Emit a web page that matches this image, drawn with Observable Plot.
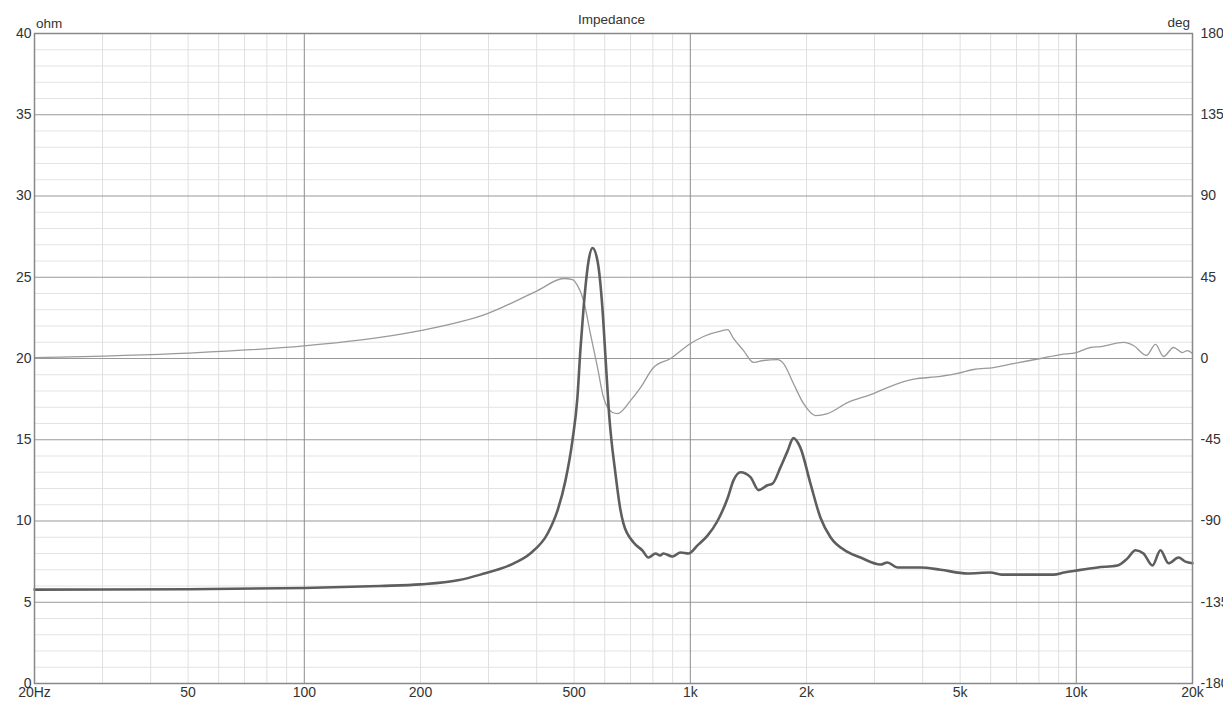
<!DOCTYPE html>
<html>
<head>
<meta charset="utf-8">
<script src="https://cdn.jsdelivr.net/npm/d3@7"></script>
<script src="https://cdn.jsdelivr.net/npm/@observablehq/plot@0.6"></script>
<style>
  html, body { margin: 0; padding: 0; background: #fff; }
  #chart { position: relative; width: 1223px; height: 710px; overflow: hidden; font-family: "Liberation Sans", Arial, sans-serif; }
  #chart svg { position: absolute; left: 0; top: 0; }
  .lbl { position: absolute; font-size: 13.5px; line-height: 1; color: #333; white-space: nowrap; }
</style>
</head>
<body>
<div id="chart"></div>
<script>
// ---- Data ----
const impFreq = [20, 50, 100, 157, 200, 250, 286, 348, 385, 427, 453, 475, 495, 510, 519, 529, 545, 558, 575, 592, 603, 617, 640, 659, 671, 713, 752, 779, 813, 835, 852, 899, 943, 989, 1044, 1108, 1176, 1249, 1294, 1349, 1432, 1502, 1585, 1633, 1712, 1786, 1850, 1929, 2048, 2174, 2308, 2554, 2761, 3110, 3241, 3443, 3948, 4449, 5224, 5994, 6400, 7474, 8730, 9300, 10000, 11350, 12780, 13570, 14240, 14930, 15750, 16520, 17330, 18400, 19180, 20000];
const impOhm  = [5.78, 5.8, 5.88, 6.0, 6.1, 6.35, 6.7, 7.38, 8.0, 9.23, 10.65, 12.5, 14.95, 17.6, 20.5, 23.1, 26.0, 26.8, 26.0, 23.1, 20.06, 16.37, 12.9, 10.7, 9.85, 8.68, 8.18, 7.75, 8.0, 7.88, 8.0, 7.82, 8.06, 8.0, 8.5, 9.1, 10.0, 11.4, 12.5, 13.0, 12.7, 11.9, 12.2, 12.3, 13.3, 14.3, 15.1, 14.5, 12.3, 10.2, 9.0, 8.1, 7.75, 7.32, 7.45, 7.14, 7.14, 7.0, 6.77, 6.83, 6.7, 6.7, 6.7, 6.83, 6.95, 7.14, 7.26, 7.7, 8.2, 8.0, 7.26, 8.2, 7.4, 7.75, 7.5, 7.4];

const phaseFreq = [20, 50, 100, 157, 200, 298, 402, 470, 495, 510, 529, 551, 575, 596, 629, 648, 700, 743, 803, 889, 1001, 1082, 1212, 1250, 1294, 1374, 1458, 1547, 1682, 1744, 1850, 1964, 2110, 2267, 2554, 2982, 3241, 3764, 4449, 4920, 5416, 6102, 6873, 8075, 9100, 10000, 10880, 11560, 13250, 14070, 15200, 16040, 16830, 17860, 18840, 19400, 20000];
const phaseDeg  = [0.5, 3.0, 7.0, 11.7, 15.5, 24.9, 37.6, 44.3, 43.7, 40.5, 32.1, 13.8, -5.0, -21.6, -29.9, -30.5, -23.3, -16.1, -5.0, 0.0, 8.3, 12.2, 15.5, 16.0, 11.1, 4.4, -2.2, -1.1, -0.6, -2.8, -13.8, -24.9, -31.6, -30.5, -24.4, -19.4, -16.1, -11.6, -9.9, -8.3, -6.1, -5.0, -2.8, 0.0, 2.2, 3.3, 6.1, 6.6, 8.9, 7.2, 1.7, 7.8, 1.1, 6.1, 3.3, 4.4, 2.8];

const ohmTicks = [0, 5, 10, 15, 20, 25, 30, 35, 40];
const ohmMinor = [1,2,3,4,6,7,8,9,11,12,13,14,16,17,18,19,21,22,23,24,26,27,28,29,31,32,33,34,36,37,38,39];
const degTicks = [-180, -135, -90, -45, 0, 45, 90, 135, 180];
const freqMajor = [100, 1000, 10000];
const freqMinor = [30,40,50,60,70,80,90,200,300,400,500,600,700,800,900,2000,3000,4000,5000,6000,7000,8000,9000];
const xTickValues = [20, 50, 100, 200, 500, 1000, 2000, 5000, 10000, 20000];
const xTickLabels = ["20Hz", "50", "100", "200", "500", "1k", "2k", "5k", "10k", "20k"];

const titleText = "Impedance";
const leftUnit = "ohm";
const rightUnit = "deg";

// ---- Build ----
const impedance = impFreq.map((f, i) => ({f, v: impOhm[i]}));
const phase = phaseFreq.map((f, i) => ({f, v: phaseDeg[i]}));
const xTicks = xTickValues.map((f, i) => ({f, label: xTickLabels[i]}));

const W = 1223, H = 710;
const margins = {marginTop: 33, marginRight: 31, marginBottom: 27, marginLeft: 34};
const xOpt = {type: "log", domain: [20, 20000], axis: null};
const fontStyle = {fontFamily: "Liberation Sans, Arial, sans-serif", fontSize: "14px", color: "#333", overflow: "visible"};

// Layer A: grid + left axis + x axis labels (ohm scale)
const layerA = Plot.plot({
  width: W, height: H, ...margins,
  x: xOpt,
  y: {domain: [0, 40], axis: null},
  style: {...fontStyle, background: "white"},
  marks: [
    Plot.ruleY(ohmMinor, {stroke: "#e3e3e3", strokeWidth: 1}),
    Plot.ruleX(freqMinor, {stroke: "#e0e0e0", strokeWidth: 1}),
    Plot.ruleY(ohmTicks, {stroke: "#999", strokeWidth: 1}),
    Plot.ruleX(freqMajor, {stroke: "#8c8c8c", strokeWidth: 1}),
    Plot.axisY({ticks: ohmTicks, tickSize: 0, tickPadding: 3, label: null, tickFormat: d => String(d)}),
    Plot.text(xTicks, {x: "f", text: "label", frameAnchor: "bottom", lineAnchor: "top", dy: 4, fill: "#333", fontSize: 14})
  ]
});

// Layer B: phase (deg scale) + right axis
const layerB = Plot.plot({
  width: W, height: H, ...margins,
  x: xOpt,
  y: {domain: [-180, 180], axis: null},
  style: {...fontStyle, background: "transparent"},
  marks: [
    Plot.line(phase, {x: "f", y: "v", stroke: "#9a9a9a", strokeWidth: 1.3, curve: "monotone-x"}),
    Plot.axisY({anchor: "right", ticks: degTicks, tickSize: 0, tickPadding: 8, label: null, tickFormat: d => String(d)})
  ]
});

// Layer C: impedance (ohm scale) + frame
const layerC = Plot.plot({
  width: W, height: H, ...margins,
  x: xOpt,
  y: {domain: [0, 40], axis: null},
  style: {...fontStyle, background: "transparent"},
  marks: [
    Plot.line(impedance, {x: "f", y: "v", stroke: "#5e5e5e", strokeWidth: 2.6, curve: "monotone-x"}),
    Plot.frame({stroke: "#888", strokeWidth: 1.5})
  ]
});

const chart = document.getElementById("chart");
chart.append(layerA, layerB, layerC);

function addLabel(text, css) {
  const d = document.createElement("div");
  d.className = "lbl";
  d.textContent = text;
  Object.assign(d.style, css);
  chart.append(d);
}
addLabel(titleText, {left: "0px", width: W + "px", textAlign: "center", top: "13px"});
addLabel(leftUnit, {left: "36px", top: "17px"});
addLabel(rightUnit, {right: (W - 1190) + "px", top: "16px"});
</script>
</body>
</html>
